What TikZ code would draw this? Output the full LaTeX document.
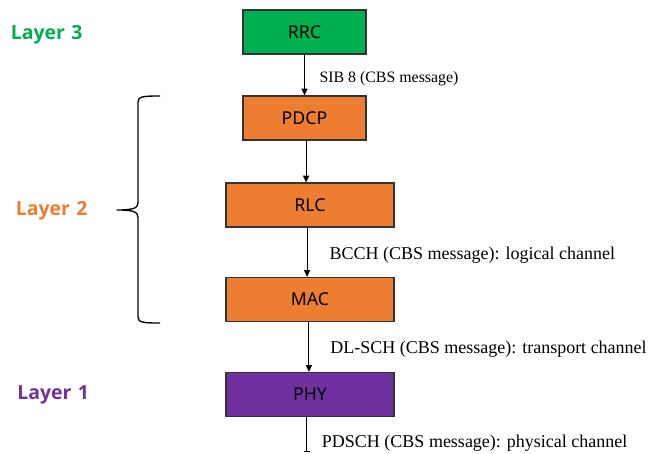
\documentclass[tikz,border=0pt]{standalone}
\usepackage{fontspec}
\setmainfont{Liberation Serif}
\newfontfamily\boxfont{Noto Sans}
\newfontfamily\layerfont{Open Sans}
\usetikzlibrary{arrows.meta,calc}

\definecolor{rrcgreen}{HTML}{00B050}
\definecolor{l2orange}{HTML}{ED7D31}
\definecolor{l1purple}{HTML}{7030A0}
\definecolor{edgegray}{HTML}{333333}

\tikzset{
  layerbox/.style={draw=edgegray, line width=1pt, minimum height=33pt,
    inner sep=0pt, font=\boxfont\fontsize{13.3pt}{15pt}\selectfont, text=black},
  narrowbox/.style={layerbox, minimum width=92.25pt},
  widebox/.style={layerbox, minimum width=126pt},
  flow/.style={line width=0.8pt, -{Triangle[length=5pt,width=4.5pt]}},
  chanlabel/.style={anchor=base west, inner sep=0pt,
    font=\fontsize{13.5pt}{15pt}\selectfont},
  smalllabel/.style={chanlabel, font=\fontsize{11.9pt}{14pt}\selectfont},
  layertag/.style={anchor=base west, inner sep=0pt,
    font=\layerfont\bfseries\fontsize{14.6pt}{17pt}\selectfont},
  bracestyle/.style={line width=1pt, line join=round}
}

\begin{document}
\begin{tikzpicture}[x=0.75pt, y=-0.75pt]
  \useasboundingbox (0,0) rectangle (649,453);

  % protocol stack
  \node[narrowbox, fill=rrcgreen] (RRC)  at (304.5,32)  {RRC};
  \node[narrowbox, fill=l2orange] (PDCP) at (304.5,118) {PDCP};
  \node[widebox,   fill=l2orange] (RLC)  at (310,205)   {RLC};
  \node[widebox,   fill=l2orange] (MAC)  at (310,299.5) {MAC};
  \node[widebox,   fill=l1purple] (PHY)  at (310,394.5) {PHY};

  % downward flow between the entities
  \draw[flow] (RRC.south) -- (PDCP.north);
  \draw[flow] ([xshift=1.2pt]PDCP.south) -- ([xshift=1.2pt]PDCP.south |- RLC.north);
  \draw[flow] ([xshift=-2.2pt]RLC.south) -- ([xshift=-2.2pt]MAC.north);
  \draw[flow] ([xshift=-0.8pt]MAC.south) -- ([xshift=-0.8pt]PHY.north);
  \coordinate (air) at ([xshift=-2.5pt]PHY.south |- 0,452);
  \draw[line width=0.8pt, -{Bar[width=4.5pt]}] ([xshift=-2.5pt]PHY.south) -- (air);

  % channel labels
  \node[smalllabel] (sib) at (319.3,83)  {SIB 8 (CBS message)};
  \node[chanlabel] (bcch) at (329.3,259)   {BCCH (CBS message): logical channel};
  \node[chanlabel] (dl)   at (330,353.5) {DL-SCH (CBS message): transport channel};
  \node[chanlabel] (pd)   at (321.7,447.7) {PDSCH (CBS message): physical channel};

  % layer tags
  \node[layertag, text=rrcgreen] (L3) at (10.5,40)  {Layer\,\,3};
  \node[layertag, text=l2orange] (L2) at (15.5,215) {Layer\,\,2};
  \node[layertag, text=l1purple] (L1) at (17,399.3) {Layer\,\,1};

  % brace grouping the layer 2 entities
  \draw[bracestyle] (160,96) .. controls (143,96) and (138,96.5) .. (138,102)
    -- (138,203) .. controls (138,208.5) and (132,210) .. (117,210)
    .. controls (132,210) and (138,211.5) .. (138,217)
    -- (138,317) .. controls (138,322.5) and (143,323) .. (160,323);
\end{tikzpicture}
\end{document}
